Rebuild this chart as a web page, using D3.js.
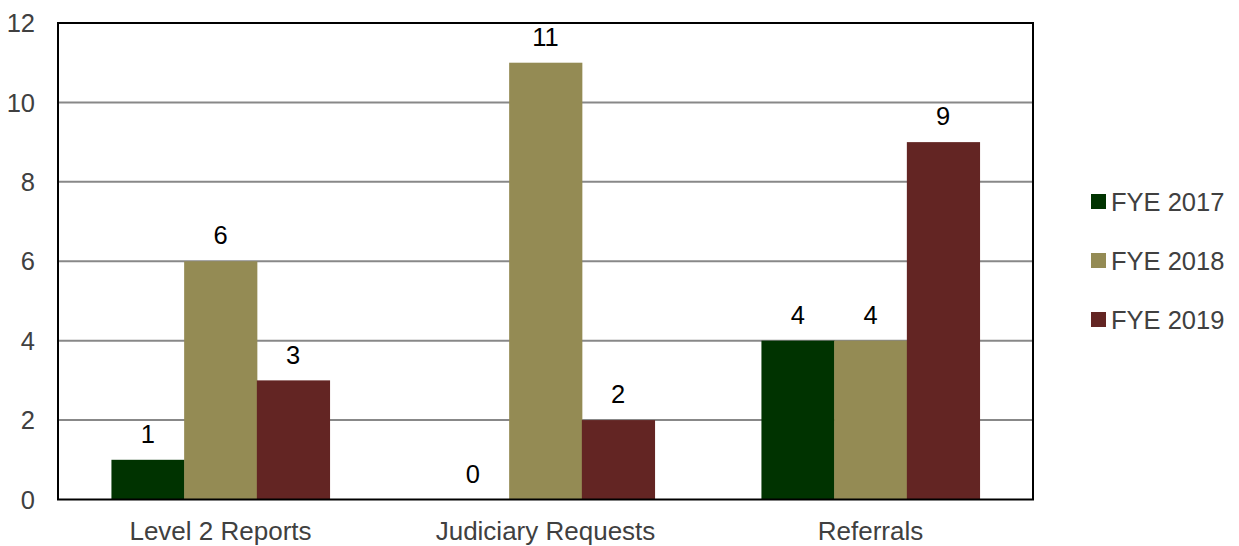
<!DOCTYPE html>
<html>
<head>
  <meta charset="UTF-8" />
  <style>
    body { margin: 0; background: #fff; font-family: "Liberation Sans", Arial, sans-serif; }
  </style>
  <script src="https://d3js.org/d3.v7.min.js"></script>
</head>
<body>
  <script>
    let categories = ["Level 2 Reports", "Judiciary Requests", "Referrals"];
    let seriesNames = ["FYE 2017", "FYE 2018", "FYE 2019"];
    let fye2017 = [1, 0, 4];
    let fye2018 = [6, 11, 4];
    let fye2019 = [3, 2, 9];
    let yTicks = [0, 2, 4, 6, 8, 10, 12];
    let colorArray = ["#003300", "#948b54", "#632523"];

    let seriesValues = [fye2017, fye2018, fye2019];

    let width = 1239, height = 546;
    let plot = { left: 58, right: 1033, top: 23, bottom: 499.5 };

    let svg = d3.select("body")
      .append("svg")
      .attr("width", width)
      .attr("height", height);

    let x0 = d3.scaleBand()
      .domain(categories)
      .range([plot.left, plot.right])
      .paddingInner(0)
      .paddingOuter(0);

    /* bars fill about two thirds of each category band */
    let x1 = d3.scaleBand()
      .domain(seriesNames)
      .range([0, x0.bandwidth()])
      .paddingOuter(0.735)
      .paddingInner(0);

    let y = d3.scaleLinear()
      .domain([0, 12])
      .range([plot.bottom, plot.top]);

    /* gridlines */
    svg.append("g")
      .selectAll("line")
      .data(yTicks.filter(t => t > 0 && t < 12))
      .enter()
      .append("line")
      .attr("x1", plot.left)
      .attr("x2", plot.right)
      .attr("y1", d => y(d))
      .attr("y2", d => y(d))
      .attr("stroke", "#888")
      .attr("stroke-width", 2);

    /* bars */
    let groups = svg.append("g")
      .selectAll("g")
      .data(categories)
      .enter()
      .append("g")
      .attr("transform", d => `translate(${x0(d)},0)`);

    let rows = (c, ci) => seriesNames.map((s, si) => ({ s: s, si: si, v: seriesValues[si][ci] }));

    groups.selectAll("rect")
      .data(rows)
      .enter()
      .append("rect")
      .attr("x", d => x1(d.s))
      .attr("width", x1.bandwidth() + 0.5)
      .attr("y", d => y(d.v))
      .attr("height", d => y(0) - y(d.v))
      .attr("fill", d => colorArray[d.si]);

    groups.selectAll("text")
      .data(rows)
      .enter()
      .append("text")
      .attr("x", d => x1(d.s) + x1.bandwidth() / 2)
      .attr("y", d => y(d.v) - 26)
      .attr("dy", "0.36em")
      .attr("text-anchor", "middle")
      .attr("font-size", 25.5)
      .attr("fill", "#000")
      .text(d => d.v);

    /* plot frame */
    svg.append("rect")
      .attr("x", plot.left)
      .attr("y", plot.top)
      .attr("width", plot.right - plot.left)
      .attr("height", plot.bottom - plot.top)
      .attr("fill", "none")
      .attr("stroke", "#000")
      .attr("stroke-width", 2);

    /* y axis labels */
    svg.append("g")
      .selectAll("text")
      .data(yTicks)
      .enter()
      .append("text")
      .attr("x", 35)
      .attr("y", d => y(d))
      .attr("dy", "0.36em")
      .attr("text-anchor", "end")
      .attr("font-size", 25.5)
      .attr("fill", "#404040")
      .text(d => d);

    /* x axis labels */
    svg.append("g")
      .selectAll("text")
      .data(categories)
      .enter()
      .append("text")
      .attr("x", d => x0(d) + x0.bandwidth() / 2)
      .attr("y", 531)
      .attr("dy", "0.36em")
      .attr("text-anchor", "middle")
      .attr("font-size", 26)
      .attr("fill", "#404040")
      .text(d => d);

    /* legend */
    let legend = svg.append("g")
      .selectAll("g")
      .data(seriesNames)
      .enter()
      .append("g")
      .attr("transform", (d, i) => `translate(1091, ${201.5 + i * 59})`);

    legend.append("rect")
      .attr("x", 0)
      .attr("y", -7.5)
      .attr("width", 15)
      .attr("height", 15)
      .attr("fill", (d, i) => colorArray[i]);

    legend.append("text")
      .attr("x", 20)
      .attr("y", 0)
      .attr("dy", "0.36em")
      .attr("font-size", 25.5)
      .attr("fill", "#404040")
      .text(d => d);
  </script>
</body>
</html>
